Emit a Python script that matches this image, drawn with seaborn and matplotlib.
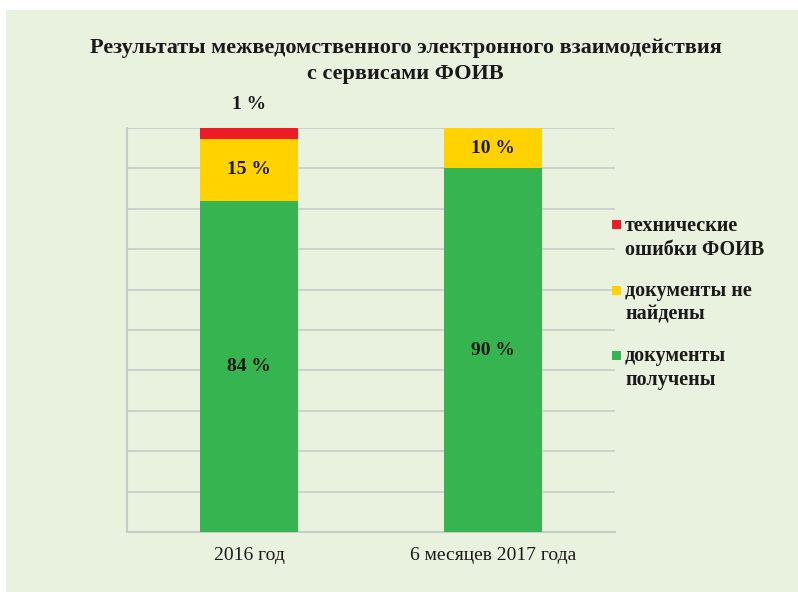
import numpy as np
import pandas as pd
import matplotlib
matplotlib.use('Agg')
import matplotlib.pyplot as plt
from matplotlib.patches import Rectangle
import seaborn as sns

sns.set_theme(style='white')
plt.rcParams['font.family'] = ['Liberation Serif', 'DejaVu Serif']

categories = ['2016 год', '6 месяцев 2017 года']
# bar heights as drawn in the picture (percent of total)
received = [82.0, 90.0]
not_found = [15.3, 10.0]
errors = [2.7, 0.0]
# value labels as printed on the picture
received_lbl = ['84 %', '90 %']
not_found_lbl = ['15 %', '10 %']
errors_lbl = ['1 %', '']
series_names = ['технические\nошибки ФОИВ', 'документы не\nнайдены', 'документы\nполучены']

c_red = '#ed1c24'
c_yellow = '#ffd200'
c_green = '#35b44f'
bg = '#e9f2df'
txt = '#1a1a1a'

df = pd.DataFrame({'cat': categories, 'received': received,
                   'not_found': not_found, 'errors': errors})
df['b_nf'] = df['received']
df['b_err'] = df['received'] + df['not_found']

fig = plt.figure(figsize=(7.98, 5.92), dpi=100)
fig.patch.set_facecolor('white')
fig.patches.append(Rectangle((6/798, 0), 1, 1 - 10/592, transform=fig.transFigure,
                             facecolor=bg, edgecolor='none', zorder=-10))
ax = fig.add_axes([127/798, 1 - 532/592, (615 - 127)/798, (532 - 128)/592])
ax.set_facecolor(bg)

bar_kw = dict(width=0.4, saturation=1, ax=ax, zorder=3, linewidth=0, edgecolor='none')
sns.barplot(data=df, x='cat', y='received', color=c_green, **bar_kw)
sns.barplot(data=df, x='cat', y='not_found', bottom=df['b_nf'], color=c_yellow, **bar_kw)
sns.barplot(data=df, x='cat', y='errors', bottom=df['b_err'], color=c_red, **bar_kw)

ax.set_xlim(-0.5, 1.5)
ax.set_ylim(0, 100)
ax.set_yticks(np.arange(0, 101, 10))
ax.set_yticklabels([])
ax.yaxis.grid(True, color='#c9cbc6', linewidth=1.2, zorder=0)
ax.set_axisbelow(True)
for s in ['top', 'right']:
    ax.spines[s].set_visible(False)
for s in ['left', 'bottom']:
    ax.spines[s].set_color('#c9cbc6')
    ax.spines[s].set_linewidth(1.5)
ax.tick_params(axis='both', length=0)
ax.tick_params(axis='x', labelsize=14, pad=11, colors=txt)
ax.set_xlabel('')
ax.set_ylabel('')

lab = dict(ha='center', va='center', fontsize=14, fontweight='bold', color=txt, zorder=5)
for i in range(len(categories)):
    ax.text(i, received[i] / 2, received_lbl[i], **lab)
    ax.text(i, received[i] + not_found[i] / 2, not_found_lbl[i], **lab)
    if errors_lbl[i]:
        ax.text(i, 105.8, errors_lbl[i], clip_on=False, **lab)

fig.text(0.508, 1 - 61/592, 'Результаты межведомственного электронного взаимодействия\nс сервисами ФОИВ',
         ha='center', va='center', fontsize=16, fontweight='bold', color=txt,
         linespacing=1.42)

# legend: square marker aligned with the first text line
leg_y = [225, 290, 355]
for c, name, y in zip([c_red, c_yellow, c_green], series_names, leg_y):
    fig.patches.append(Rectangle((612/798, 1 - (y + 4.5)/592), 9/798, 9/592,
                                 transform=fig.transFigure, facecolor=c, edgecolor='none'))
    fig.text(625/798, 1 - (y - 9)/592, name, ha='left', va='top', fontsize=14.5,
             fontweight='bold', color=txt, linespacing=1.25)

fig.savefig('out.png', dpi=100, facecolor='white')
